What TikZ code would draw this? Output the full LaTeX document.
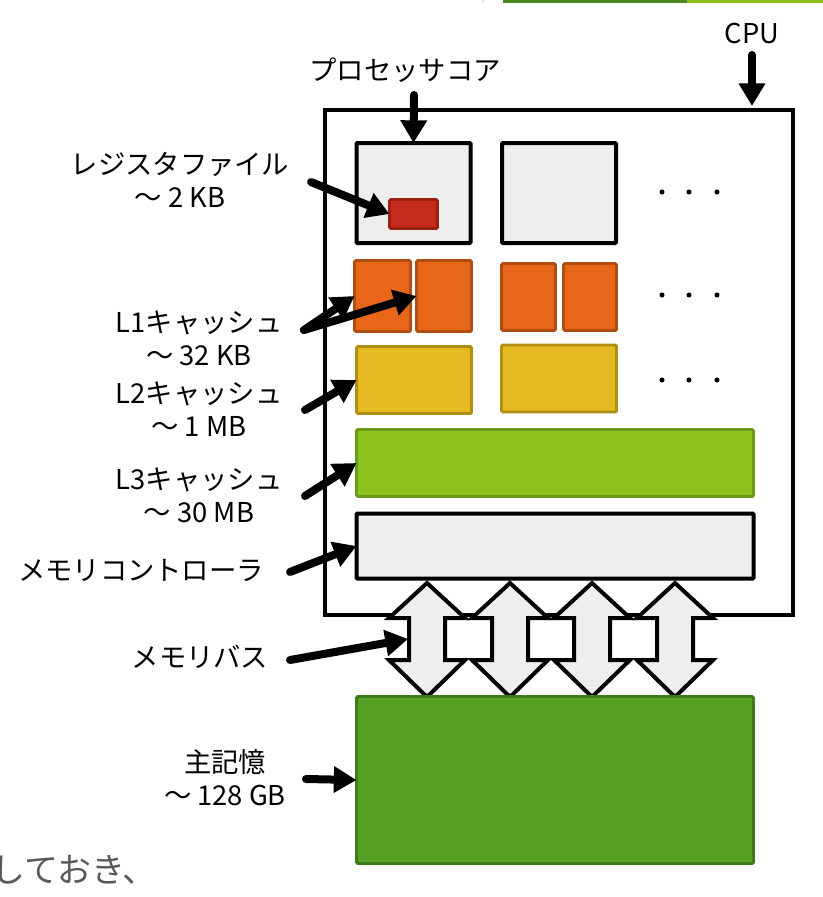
\documentclass[tikz,border=0pt]{standalone}
\usepackage{fontspec}
\setmainfont{Noto Sans CJK JP}
\usetikzlibrary{arrows.meta}
\definecolor{boxgray}{HTML}{EEEEEE}
\definecolor{regfill}{HTML}{C42B1C}
\definecolor{regline}{HTML}{9B2213}
\definecolor{lonefill}{HTML}{E8661A}
\definecolor{loneline}{HTML}{B04E12}
\definecolor{ltwofill}{HTML}{E5B920}
\definecolor{ltwoline}{HTML}{B08D14}
\definecolor{lthreefill}{HTML}{8DC21F}
\definecolor{lthreeline}{HTML}{6B9A1D}
\definecolor{memfill}{HTML}{55A023}
\definecolor{memline}{HTML}{3E7B1A}
\definecolor{bardark}{HTML}{4C8A20}
\definecolor{barlight}{HTML}{8DC21F}
\definecolor{textgray}{HTML}{595959}
\begin{document}
\begin{tikzpicture}[x=0.75pt,y=-0.75pt,
  blackbox/.style={draw=black, fill=boxgray, line width=3pt, inner sep=0pt, outer sep=0pt, rounded corners=0.8pt},
  colbox/.style={line width=2.2pt, inner sep=0pt, outer sep=0pt, rounded corners=1pt},
  lbl/.style={align=center, font=\fontsize{20.5pt}{24.75pt}\selectfont, inner sep=0pt},
  ptr/.style={line width=6pt, line cap=round, -{Triangle[length=17pt,width=19pt]}},
  busarrow/.style={draw=black, fill=boxgray, line width=3pt, line join=miter},
]
\useasboundingbox (0,0) rectangle (823,897);
% top bar
\fill[bardark] (503,0) rectangle (687,3);
\fill[barlight] (687,0) rectangle (823,3);
\fill[black!12] (481.5,0) rectangle (484,3);

% CPU box
\node[draw=black, line width=3pt, minimum width=468*0.75pt, minimum height=505*0.75pt, inner sep=0pt, outer sep=0pt] (cpu) at (559,362.5) {};

% cores
\node[blackbox, minimum width=114*0.75pt, minimum height=100*0.75pt] (core1) at (413.5,193) {};
\node[blackbox, minimum width=114*0.75pt, minimum height=100*0.75pt] (core2) at (559,193) {};
\node[colbox, draw=regline, fill=regfill, minimum width=48*0.75pt, minimum height=29*0.75pt] (reg) at (413.5,214) {};

% L1
\node[colbox, draw=loneline, fill=lonefill, minimum width=56*0.75pt, minimum height=71*0.75pt] (l1a) at (382.5,296) {};
\node[colbox, draw=loneline, fill=lonefill, minimum width=55*0.75pt, minimum height=71*0.75pt] (l1b) at (444,296) {};
\node[colbox, draw=loneline, fill=lonefill, minimum width=54*0.75pt, minimum height=67*0.75pt] (l1c) at (528.5,297) {};
\node[colbox, draw=loneline, fill=lonefill, minimum width=53*0.75pt, minimum height=67*0.75pt] (l1d) at (590,297) {};

% L2
\node[colbox, draw=ltwoline, fill=ltwofill, minimum width=115*0.75pt, minimum height=67*0.75pt] (l2a) at (414,380) {};
\node[colbox, draw=ltwoline, fill=ltwofill, minimum width=115*0.75pt, minimum height=67*0.75pt] (l2b) at (559,378.5) {};

% L3
\node[colbox, draw=lthreeline, fill=lthreefill, minimum width=397*0.75pt, minimum height=67*0.75pt] (l3) at (555,463) {};

% memory controller
\node[blackbox, minimum width=397*0.75pt, minimum height=65*0.75pt] (mc) at (555,546) {};

% dots
\foreach \yy in {192,295,380}{
  \foreach \xx in {662,689,717}{
    \fill (\xx,\yy) circle[radius=1.9pt];
  }
}

% memory bus arrows
\foreach \cx [count=\i] in {427,510,592,675}{
  \draw[busarrow] (\cx,583) -- (\cx+38,618) -- (\cx+18,618) -- (\cx+18,660) -- (\cx+38,660)
     -- (\cx,697) -- (\cx-38,660) -- (\cx-18,660) -- (\cx-18,618) -- (\cx-38,618) -- cycle;
  \coordinate (bus\i) at (\cx-19,639);
}

% main memory
\node[colbox, draw=memline, fill=memfill, minimum width=397*0.75pt, minimum height=167*0.75pt] (mm) at (555,780) {};

% labels
\node[lbl] (lcpu) at (752,33) {CPU};
\node[lbl] (lcore) at (405,70) {プロセッサコア};
\node[lbl] (lreg) at (180,180) {レジスタファイル\\～ 2 KB};
\node[lbl] (lone) at (199,338) {L1キャッシュ\\～ 32 KB};
\node[lbl] (ltwo) at (199,409) {L2キャッシュ\\～ 1 MB};
\node[lbl] (lthree) at (199,495) {L3キャッシュ\\～ 30 MB};
\node[lbl] (lmc) at (141,570) {メモリコントローラ};
\node[lbl] (lbus) at (200,657) {メモリバス};
\node[lbl] (lmm) at (225,778) {主記憶\\～ 128 GB};

% arrow start points
\coordinate (scpu) at (752,55);
\coordinate (tcpu) at (752,106);
\coordinate (score) at (414,95);
\coordinate (sreg) at (311,182);
\coordinate (sone) at (304,330);
\coordinate (stwo) at (305,410);
\coordinate (sthree) at (305,496);
\coordinate (smc) at (290,572);
\coordinate (sbus) at (290,660);
\coordinate (smm) at (306,779);

\draw[ptr] (scpu) -- (tcpu);
\draw[ptr] (score) -- (core1.north);
\draw[ptr] (sreg) -- (reg.west);
\draw[ptr] (sone) -- (l1a.west);
\draw[ptr] (sone) -- (l1b.west);
\draw[ptr] (stwo) -- (l2a.west);
\draw[ptr] (sthree) -- (l3.west);
\draw[ptr] (smc) -- (mc.west);
\draw[ptr] (sbus) -- (bus1);
\draw[ptr] (smm) -- (mm.west);

% cut-off text at bottom
\node[anchor=west, inner sep=0pt, text=textgray, font=\fontsize{25.5pt}{30pt}\selectfont] (tail) at (-9,870) {しておき、};
\end{tikzpicture}
\end{document}
